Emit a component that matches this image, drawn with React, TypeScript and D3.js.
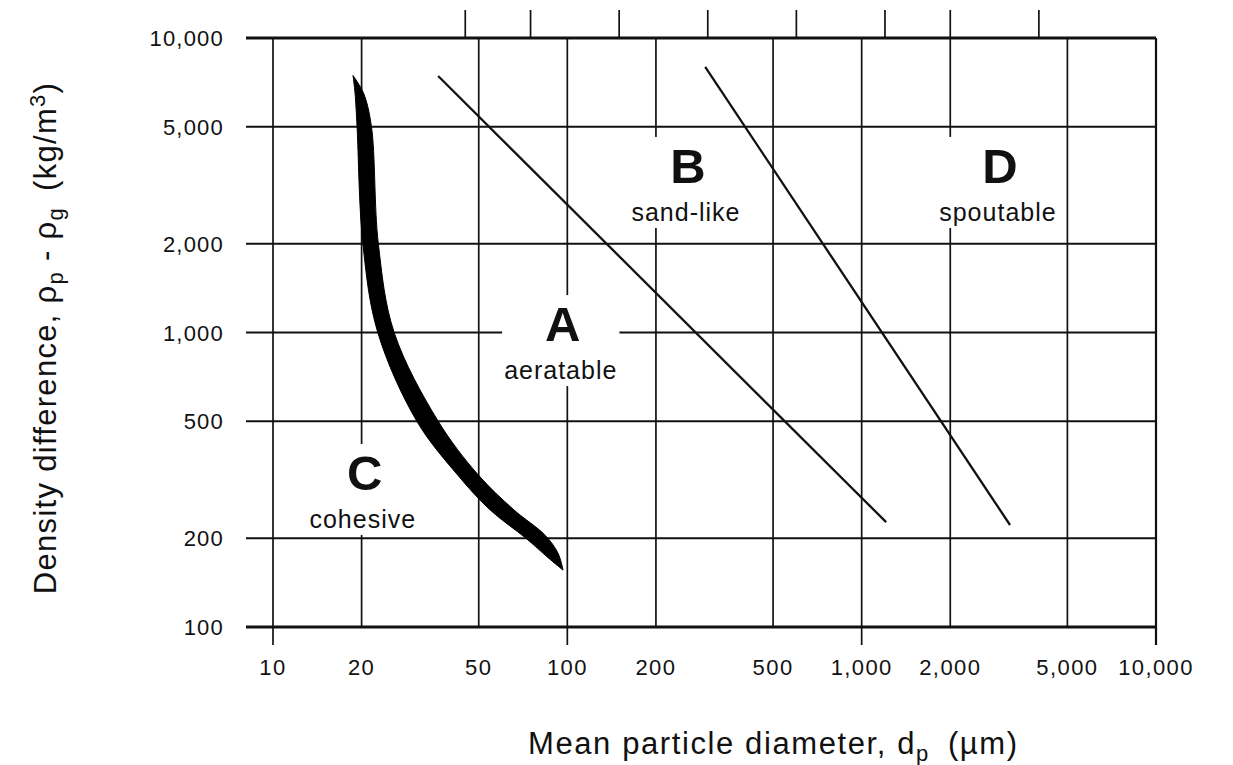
import React, { useEffect, useRef } from 'react';
import * as d3 from 'd3';

// particle diameter (um) and density difference (kg/m3)
const xTicks = [10, 20, 50, 100, 200, 500, 1000, 2000, 5000, 10000];
const xDecades = [10, 100, 1000, 10000];
const yTicks = [100, 200, 500, 1000, 2000, 5000, 10000];
const topTicks = [45, 75, 150, 300, 600, 1200, 2000, 4000];

// A/B boundary and B/D boundary
const abLine = [[36.4, 7430], [1211, 227]];
const bdLine = [[294, 7980], [3192, 222]];

// C/A boundary (thick band): tips and both edges
const bandTop = [18.7, 7460];
const bandBottom = [96.7, 156];
const bandLeft = [[19.0, 6500], [19.3, 5000], [20.2, 2000], [22.7, 1000], [30.8, 500], [42.2, 330], [54.6, 250], [72.4, 200], [86, 172]];
const bandRight = [[20.3, 6500], [21.6, 5000], [22.8, 2000], [25.8, 1000], [36.4, 500], [49.6, 330], [65.8, 250], [84, 205], [93, 178]];

// group labels: letter, description, anchor (d, rho) of the letter
const groups = [
    { letter: 'A', text: 'aeratable', at: [96.5, 935] },
    { letter: 'B', text: 'sand-like', at: [257, 3220] },
    { letter: 'C', text: 'cohesive', at: [20.5, 292] },
    { letter: 'D', text: 'spoutable', at: [2950, 3220] },
];

const FONT = '"Liberation Sans", Arial, Helvetica, sans-serif';

const App = () => {
    const svgRef = useRef<SVGSVGElement>(null);

    useEffect(() => {
        const width = 1233, height = 765;
        const svg = d3.select(svgRef.current).attr('width', width).attr('height', height);
        svg.selectAll('*').remove();

        const x = d3.scaleLog().domain([10, 10000]).range([273, 1156]);
        const y = d3.scaleLog().domain([100, 10000]).range([627, 38]);
        const fmt = d3.format(',');
        const ink = '#111';

        // horizontal grid
        const grid = svg.append('g').attr('stroke', ink);
        grid.selectAll('line.h')
            .data(yTicks)
            .enter()
            .append('line')
            .attr('x1', 246)
            .attr('x2', x(10000))
            .attr('y1', d => y(d))
            .attr('y2', d => y(d))
            .attr('stroke-width', d => (d === 100 || d === 10000 ? 3.2 : 2));

        // vertical grid, decades poke below the axis
        grid.selectAll('line.v')
            .data(xTicks)
            .enter()
            .append('line')
            .attr('x1', d => x(d))
            .attr('x2', d => x(d))
            .attr('y1', y(10000))
            .attr('y2', d => (xDecades.includes(d) ? y(100) + 18 : y(100)))
            .attr('stroke-width', d => (d === 10000 ? 2.2 : 1.7));

        // ticks above the top edge
        grid.selectAll('line.t')
            .data(topTicks)
            .enter()
            .append('line')
            .attr('x1', d => x(d))
            .attr('x2', d => x(d))
            .attr('y1', 10)
            .attr('y2', y(10000))
            .attr('stroke-width', 1.7);

        // tick labels
        svg.append('g')
            .selectAll('text')
            .data(yTicks)
            .enter()
            .append('text')
            .attr('x', 224)
            .attr('y', d => y(d) + 8)
            .attr('text-anchor', 'end')
            .style('font-family', FONT)
            .style('font-size', '22px')
            .style('letter-spacing', '1.2px')
            .attr('fill', ink)
            .text(d => fmt(d));

        svg.append('g')
            .selectAll('text')
            .data(xTicks)
            .enter()
            .append('text')
            .attr('x', d => x(d))
            .attr('y', 675)
            .attr('text-anchor', 'middle')
            .style('font-family', FONT)
            .style('font-size', '22px')
            .style('letter-spacing', '1.4px')
            .attr('fill', ink)
            .text(d => fmt(d));

        // group labels sitting on white patches that break the grid
        groups.forEach(g => {
            const cx = x(g.at[0]), cy = y(g.at[1]);
            const lg = svg.append('g');
            const bg = lg.append('rect').attr('fill', '#fff');
            lg.append('text')
                .attr('x', cx)
                .attr('y', cy)
                .attr('text-anchor', 'middle')
                .style('font-family', FONT)
                .style('font-weight', 'bold')
                .style('font-size', '49px')
                .attr('fill', ink)
                .text(g.letter);
            lg.append('text')
                .attr('x', cx - 2)
                .attr('y', cy + 38)
                .attr('text-anchor', 'middle')
                .style('font-family', FONT)
                .style('font-size', '25px')
                .style('letter-spacing', '1px')
                .attr('fill', ink)
                .text(g.text);
            const box = (lg.node() as SVGGElement).getBBox();
            bg.attr('x', box.x - 2).attr('y', box.y - 2)
                .attr('width', box.width + 4).attr('height', box.height + 4);
        });

        // boundary lines
        const line = d3.line<number[]>().x(d => x(d[0])).y(d => y(d[1]));
        [abLine, bdLine].forEach(l => {
            svg.append('path')
                .attr('d', line(l))
                .attr('fill', 'none')
                .attr('stroke', ink)
                .attr('stroke-width', 2.3);
        });

        // thick C band: each edge is its own smooth curve, joined at the pointed tips
        const edge = d3.line<number[]>().x(d => x(d[0])).y(d => y(d[1])).curve(d3.curveCatmullRom.alpha(0.5));
        const leftPath = edge([bandTop, ...bandLeft, bandBottom]) as string;
        const rightPath = edge([bandBottom, ...bandRight.slice().reverse(), bandTop]) as string;
        svg.append('path')
            .attr('d', leftPath + 'L' + rightPath.slice(1) + 'Z')
            .attr('fill', '#000')
            .attr('stroke', '#000')
            .attr('stroke-width', 1);

        // axis titles
        const xt = svg.append('text')
            .attr('x', 528)
            .attr('y', 754)
            .style('font-family', FONT)
            .style('font-size', '31px')
            .style('letter-spacing', '1.6px')
            .attr('fill', ink);
        xt.append('tspan').text('Mean particle diameter, d');
        xt.append('tspan').attr('dy', 7).style('font-size', '22px').text('p');
        xt.append('tspan').attr('dy', -7).attr('dx', 18).text('(\u00b5m)');

        const yt = svg.append('text')
            .attr('transform', 'translate(56,338) rotate(-90)')
            .attr('text-anchor', 'middle')
            .style('font-family', FONT)
            .style('font-size', '31px')
            .style('letter-spacing', '1.3px')
            .attr('fill', ink);
        yt.append('tspan').text('Density difference, \u03c1');
        yt.append('tspan').attr('dy', 7).style('font-size', '22px').text('p');
        yt.append('tspan').attr('dy', -7).text(' - \u03c1');
        yt.append('tspan').attr('dy', 7).style('font-size', '22px').text('g');
        yt.append('tspan').attr('dy', -7).attr('dx', 16).text('(kg/m');
        yt.append('tspan').attr('dy', -11).style('font-size', '22px').text('3');
        yt.append('tspan').attr('dy', 11).text(')');
    }, []);

    return (
        <svg ref={svgRef} style={{ position: 'absolute', left: 0, top: 0, background: '#fff' }}></svg>
    );
};

export default App;
